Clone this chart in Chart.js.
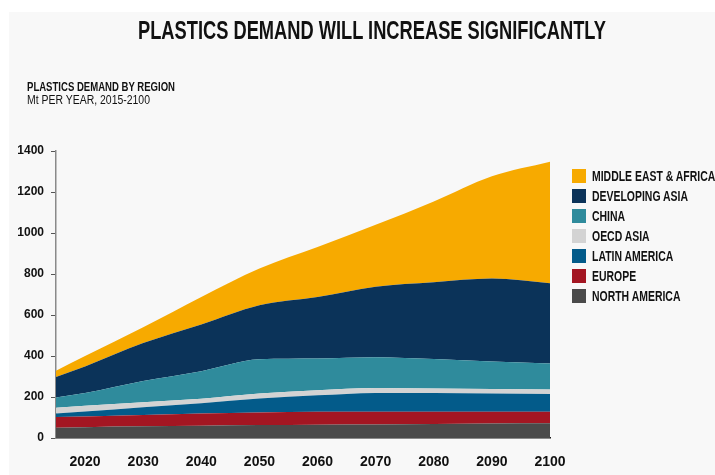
<!DOCTYPE html>
<html>
<head>
<meta charset="utf-8">
<script src="https://cdn.jsdelivr.net/npm/chart.js@4.4.1/dist/chart.umd.min.js"></script>
<style>
  body { margin: 0; width: 715px; height: 475px; overflow: hidden; position: relative; background: #fff;
         font-family: "Liberation Sans Narrow", "Liberation Sans", Arial, sans-serif; color: #111; }
  #panel { position: absolute; left: 9px; top: 12px; width: 706px; height: 463px; background: #f8f8f8; }
  #chart { position: absolute; left: 0; top: 0; }
  .txt { position: absolute; white-space: nowrap; line-height: 1; transform-origin: 0 0; }
  .box { position: absolute; left: 572px; width: 14px; height: 14px; }
</style>
</head>
<body>
<div id="panel"></div>
<canvas id="chart" width="715" height="475"></canvas>
<div id="title" class="txt" style="left:138px; top:17px; font-size:26px; font-weight:bold;">PLASTICS DEMAND WILL INCREASE SIGNIFICANTLY</div>
<div id="sub1" class="txt" style="left:27px; top:80.5px; font-size:12px; font-weight:bold;">PLASTICS DEMAND BY REGION</div>
<div id="sub2" class="txt" style="left:27px; top:94px; font-size:12px;">Mt PER YEAR, 2015-2100</div>
<div id="legend"></div>
<script>
// data (Mt per year)
const years = [2015, 2020, 2030, 2040, 2050, 2060, 2070, 2080, 2090, 2100];
const northAmerica = [50, 53, 57, 60, 63, 65, 66, 68, 71, 72];
const europe = [52, 52, 55, 60, 62, 63, 62, 60, 57, 56];
const latinAmerica = [18, 24, 38, 50, 68, 80, 92, 91, 89, 87];
const oecdAsia = [28, 28, 25, 22, 24, 25, 24, 23, 22, 21];
const china = [50, 62, 103, 134, 167, 155, 150, 143, 134, 127];
const developingAsia = [100, 130, 185, 228, 264, 300, 344, 375, 405, 392];
const middleEastAfrica = [30, 51, 77, 134, 179, 244, 302, 394, 499, 593];

const regionNames = ['NORTH AMERICA', 'EUROPE', 'LATIN AMERICA', 'OECD ASIA', 'CHINA', 'DEVELOPING ASIA', 'MIDDLE EAST & AFRICA'];
const regionColors = ['#4a4a4a', '#a31622', '#035b8a', '#d3d3d3', '#2f8b9c', '#0b3359', '#f7aa00'];
const regionValues = [northAmerica, europe, latinAmerica, oecdAsia, china, developingAsia, middleEastAfrica];

const yTicks = [0, 200, 400, 600, 800, 1000, 1200, 1400];
const xTicks = [2020, 2030, 2040, 2050, 2060, 2070, 2080, 2090, 2100];

// squeeze a text element to a given width (the source uses a condensed face)
function fitWidth(el, w) {
  const r = el.getBoundingClientRect().width;
  el.style.transform = 'scaleX(' + (w / r) + ')';
}

fitWidth(document.getElementById('title'), 468);
fitWidth(document.getElementById('sub1'), 148);
fitWidth(document.getElementById('sub2'), 123);

const datasets = regionNames.map((name, i) => ({
  label: name,
  data: years.map((yr, j) => ({ x: yr, y: regionValues[i][j] })),
  backgroundColor: regionColors[i],
  borderColor: regionColors[i],
  borderWidth: 0,
  pointRadius: 0,
  cubicInterpolationMode: 'monotone',
  fill: i === 0 ? 'origin' : '-1'
}));

// legend, top series first
const legend = document.getElementById('legend');
const legendSize = 14;
let scale = null;
regionNames.slice().reverse().forEach((name, k) => {
  const i = regionNames.length - 1 - k;
  const cy = 176.3 + k * 19.95;
  const box = document.createElement('div');
  box.className = 'box';
  box.style.top = (cy - 7) + 'px';
  box.style.background = regionColors[i];
  legend.appendChild(box);
  const t = document.createElement('div');
  t.className = 'txt';
  t.textContent = name;
  t.style.left = '592px';
  t.style.fontSize = legendSize + 'px';
  t.style.fontWeight = 'bold';
  t.style.top = (cy + 5 - 0.8465 * legendSize) + 'px';
  legend.appendChild(t);
  if (name === 'DEVELOPING ASIA') {
    scale = 96 / t.getBoundingClientRect().width;
  }
});
legend.querySelectorAll('.txt').forEach(t => { t.style.transform = 'scaleX(' + scale + ')'; });

const ctx = document.getElementById('chart').getContext('2d');
new Chart(ctx, {
  type: 'line',
  data: { datasets: datasets },
  options: {
    responsive: false,
    animation: false,
    layout: { padding: { left: 0, right: 165, top: 151, bottom: 0 } },
    plugins: { legend: { display: false }, tooltip: { enabled: false } },
    scales: {
      x: {
        type: 'linear',
        min: 2015,
        max: 2100,
        afterBuildTicks: s => { s.ticks = xTicks.map(v => ({ value: v })); },
        afterFit: s => { s.height = 37; },
        grid: { display: false },
        border: { display: true, color: '#1a1a1a', width: 1.5 },
        ticks: {
          padding: 8,
          color: '#111',
          autoSkip: false,
          maxRotation: 0,
          font: { family: '"Liberation Sans Narrow", "Liberation Sans", Arial, sans-serif', size: 14, weight: 'bold' },
          callback: v => String(v)
        }
      },
      y: {
        stacked: true,
        min: 0,
        max: 1400,
        afterBuildTicks: s => { s.ticks = yTicks.map(v => ({ value: v })); },
        afterFit: s => { s.width = 56; },
        grid: { drawOnChartArea: false, drawTicks: true, tickLength: 5, color: '#555' },
        border: { display: true, color: '#8a8a8a', width: 1.5 },
        ticks: {
          padding: 7,
          color: '#111',
          font: { family: '"Liberation Sans", Arial, sans-serif', size: 12, weight: 'bold' },
          callback: v => String(v)
        }
      }
    }
  }
});
</script>
</body>
</html>
